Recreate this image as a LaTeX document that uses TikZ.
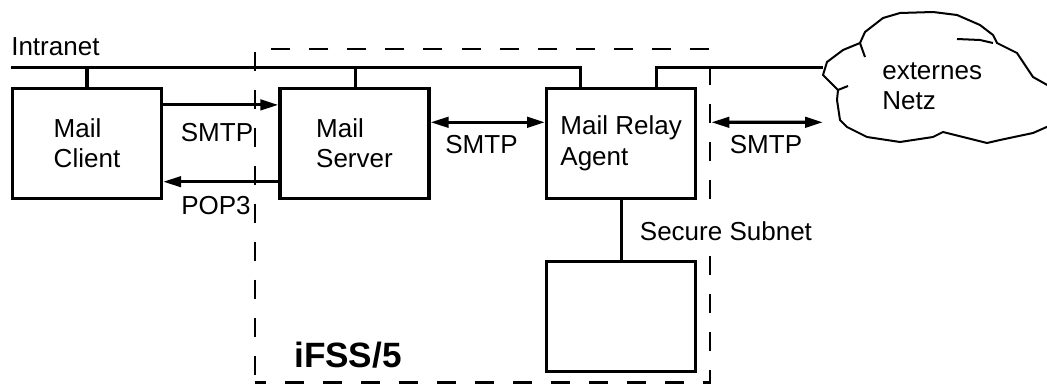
\documentclass[tikz,border=0pt]{standalone}
\usepackage{fontspec}
\setmainfont{Liberation Sans}
\usetikzlibrary{arrows.meta,positioning}

\begin{document}
\begin{tikzpicture}[x=0.025cm, y=-0.025cm,
      box/.style={draw, line width=0.8mm, minimum width=3.725cm,
                  minimum height=2.75cm, inner sep=0pt, align=left,
                  font=\fontsize{18.5}{21.5}\selectfont},
      lbl/.style={inner sep=0pt, font=\fontsize{18.5}{21.5}\selectfont},
      net/.style={line width=0.8mm},
      arr/.style={-{Triangle[length=4.5mm,width=2.6mm]}, line width=0.8mm},
      darr/.style={{Triangle[length=4.5mm,width=2.6mm]}-{Triangle[length=4.5mm,width=2.6mm]},
                  line width=0.8mm},
      fw/.style={draw, line width=0.6mm, dash pattern=on 4.75mm off 4.75mm,
                 dash phase=2mm, minimum width=11.37cm, minimum height=8.34cm},
      wolke/.style={line width=0.5mm, line join=round}
  ]
    \useasboundingbox (0,0) rectangle (1047,388);
    \node[fw] (ifss) at (482.7,215.7) {};
    \node[box] (client) at (87,143.3) {Mail\\ Client};
    \node[box, right=2.88cm of client] (server) {Mail\\ Server};
    \node[box, right=2.86cm of server] (relay) {Mail Relay\\ Agent};
    \node[box, below=1.5cm of relay] (sub) {};
    \coordinate (lan-w) at (11,67.7);
    \coordinate (cloud-w) at (823,67.7);
    \coordinate (cloud-s) at (823,122.3);
    \coordinate (smtp-y) at ([yshift=0.525cm]relay.west);
    % externes Netz
    \draw[wolke] (823,75) -- (827,62) -- (843,50) -- (860,43) -- (865,32) -- (883,18)
      -- (900,13) -- (933,12) -- (957,15) -- (980,25) -- (993,35) -- (997,43)
      -- (1017,53) -- (1033,77) -- (1049,86) -- (1056,105) -- (1049,126)
      -- (1033,133) -- (1000,140) -- (987,143) -- (943,132) -- (933,137)
      -- (900,142) -- (867,137) -- (847,127) -- (840,120) -- (837,100)
      -- (838,90) -- cycle;
    \draw[wolke] (860,43) -- (865,57);
    \draw[wolke] (957,39) -- (980,40) -- (993,43);
    \draw[wolke] (838,90) -- (848,86);
    \node[lbl, align=left, anchor=west] (netz) at (882,86) {externes\\ Netz};
    % Intranet
    \draw[net] (lan-w) -| ([xshift=-1.025cm]relay.north);
    \draw[net] (cloud-w) -| ([xshift=0.89cm]relay.north);
    \draw[net] (client.north) -- (client.north |- lan-w);
    \draw[net] ([xshift=0.025cm]server.north) -- ([xshift=0.025cm]server.north |- lan-w);
    \draw[net] (relay.south) -- (sub.north);
    \draw[arr] ([yshift=0.96cm]client.east) -- ([yshift=0.96cm]server.west);
    \draw[arr] ([yshift=-0.96cm]server.west) -- ([yshift=-0.96cm]client.east);
    \draw[darr] ([yshift=0.525cm]server.east) -- (smtp-y);
    \draw[darr] (ifss.east |- smtp-y) -- (cloud-s);
    \node[lbl, anchor=base west] (intranet) at (11,55) {Intranet};
    \node[lbl, anchor=base] (smtp-in) at (217,141) {SMTP};
    \node[lbl, anchor=base] (pop3) at (216,214) {POP3};
    \node[lbl, anchor=base] (smtp-mid) at (481.5,153) {SMTP};
    \node[lbl, anchor=base] (smtp-ext) at (766,153) {SMTP};
    \node[lbl, anchor=base west, fill=white, inner sep=4pt] (secure) at (634,240) {Secure Subnet};
    \node[lbl, anchor=base west, font=\fontsize{25}{28}\selectfont\bfseries] (ifss-name) at (294,367) {iFSS/5};
  \end{tikzpicture}
\end{document}
